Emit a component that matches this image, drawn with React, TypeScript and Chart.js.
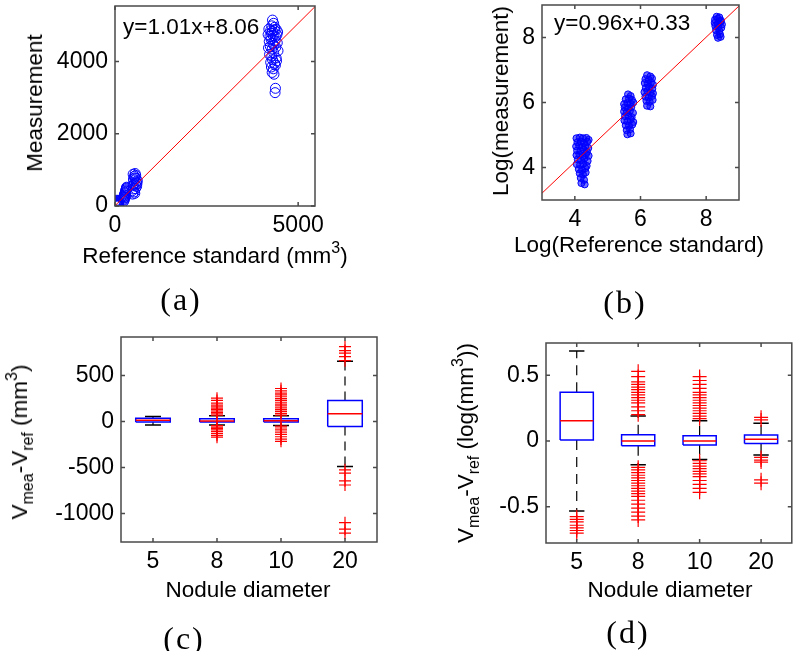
import React, { useEffect, useRef } from 'react';
import { Chart, registerables } from 'chart.js';

Chart.register(...registerables);

const SANS = "'Liberation Sans', Arial, Helvetica, sans-serif";
const SERIF = "'Liberation Serif', 'Times New Roman', Times, serif";

// ---------- Panel (a): measurement vs reference (mm^3) ----------
const aXTicks = [0, 5000];
const aYTicks = [0, 2000, 4000];
const aFit = { slope: 1.01, intercept: 8.06 };
const ax5 = [45, 60, 72, 85, 55, 95, 66, 80, 50, 70, 90, 62, 78, 58, 100];
const ay5 = [10, 40, 85, 120, 160, 60, 20, 150, 95, 0, 105, 130, 55, 70, 30];
const ax8 = [230, 250, 265, 280, 300, 320, 245, 270, 290, 310, 260, 285, 240, 305, 275, 255, 295, 315];
const ay8 = [160, 220, 300, 380, 450, 500, 260, 340, 420, 480, 190, 360, 130, 410, 240, 310, 280, 520];
const ax10 = [470, 490, 510, 530, 550, 575, 600, 480, 500, 520, 545, 565, 590, 610, 495, 525, 555, 585, 505, 540, 570];
const ay10 = [420, 560, 700, 820, 900, 760, 620, 330, 470, 610, 780, 850, 540, 700, 880, 390, 480, 660, 750, 350, 580];
const ax20 = [4300, 4330, 4280, 4360, 4200, 4250, 4300, 4350, 4400, 4440, 4180, 4230, 4270, 4320, 4380, 4420,
  4210, 4260, 4310, 4370, 4430, 4190, 4240, 4290, 4340, 4390, 4450, 4220, 4280, 4330, 4400, 4250, 4300, 4360, 4410,
  4270, 4320, 4380, 4290, 4340, 4380, 4370];
const ay20 = [5150, 5060, 4990, 4950, 4900, 4860, 4840, 4870, 4890, 4820, 4750, 4700, 4780, 4720, 4690, 4740,
  4560, 4620, 4500, 4580, 4520, 4380, 4420, 4350, 4450, 4400, 4300, 4200, 4150, 4250, 4100, 3980, 4050, 3950, 4020,
  3850, 3800, 3900, 3700, 3650, 3260, 3140];

// ---------- Panel (b): log measurement vs log reference ----------
const bTicks = [4, 6, 8];
const bFit = { slope: 0.96, intercept: 0.33 };
const bx5 = [4.05, 4.15, 4.25, 4.35, 4.42, 4.08, 4.18, 4.28, 4.38, 4.04, 4.13, 4.22, 4.32, 4.41, 4.07, 4.17, 4.27, 4.37,
  4.05, 4.14, 4.24, 4.34, 4.42, 4.09, 4.19, 4.29, 4.39, 4.06, 4.16, 4.26, 4.36, 4.12, 4.22, 4.32, 4.15, 4.25, 4.33,
  4.18, 4.28, 4.2, 4.3];
const by5 = [4.9, 4.92, 4.9, 4.91, 4.85, 4.78, 4.8, 4.76, 4.79, 4.65, 4.68, 4.62, 4.66, 4.6, 4.52, 4.5, 4.55, 4.48,
  4.38, 4.4, 4.35, 4.42, 4.36, 4.25, 4.22, 4.28, 4.2, 4.1, 4.08, 4.12, 4.05, 3.95, 3.92, 3.98, 3.82, 3.78, 3.85,
  3.68, 3.62, 3.52, 3.48];
const bx8 = [5.62, 5.7, 5.55, 5.65, 5.74, 5.5, 5.6, 5.7, 5.78, 5.52, 5.62, 5.72, 5.5, 5.58, 5.68, 5.77, 5.53, 5.63, 5.73,
  5.51, 5.6, 5.7, 5.78, 5.55, 5.65, 5.75, 5.58, 5.68, 5.6, 5.7];
const by8 = [6.25, 6.2, 6.1, 6.12, 6.08, 5.95, 5.98, 5.96, 6.0, 5.85, 5.82, 5.86, 5.72, 5.7, 5.75, 5.68, 5.58, 5.6, 5.55,
  5.45, 5.42, 5.48, 5.4, 5.3, 5.28, 5.32, 5.15, 5.18, 5.02, 5.05];
const bx10 = [6.2, 6.3, 6.15, 6.25, 6.35, 6.13, 6.22, 6.32, 6.38, 6.16, 6.26, 6.36, 6.12, 6.21, 6.3, 6.38, 6.15, 6.25, 6.35,
  6.18, 6.28, 6.37, 6.2, 6.3];
const by10 = [6.84, 6.8, 6.72, 6.7, 6.74, 6.6, 6.58, 6.62, 6.55, 6.45, 6.48, 6.42, 6.32, 6.35, 6.3, 6.28, 6.18, 6.15, 6.2,
  6.05, 6.02, 6.08, 5.9, 5.88];
const bx20 = [8.32, 8.4, 8.27, 8.36, 8.45, 8.26, 8.35, 8.44, 8.48, 8.28, 8.37, 8.46, 8.3, 8.4, 8.33, 8.42, 8.36, 8.44];
const by20 = [8.64, 8.62, 8.55, 8.58, 8.52, 8.45, 8.42, 8.48, 8.4, 8.35, 8.32, 8.3, 8.22, 8.2, 8.08, 8.1, 7.99, 8.02];

// ---------- Box plots ----------
const diameters = ['5', '8', '10', '20'];
const catTicks = [1, 2, 3, 4];

// (c) V_mea - V_ref (mm^3)
const cYTicks = [-1000, -500, 0, 500];
const cQ1 = [-5, -5, -5, -54];
const cMed = [15, 5, 10, 84];
const cQ3 = [37, 30, 32, 228];
const cLow = [-36, -38, -42, -490];
const cHigh = [54, 62, 62, 655];
const cOut5: number[] = [];
const cOut8 = [70, 85, 100, 115, 130, 145, 160, 180, 200, 230, 255, -45, -60, -75, -90, -110, -130, -150, -170];
const cOut10 = [70, 90, 110, 130, 150, 170, 190, 210, 230, 250, 270, 290, 310, 335, 360,
  -50, -70, -90, -115, -140, -165, -190, -215];
const cOut20 = [663, 707, 745, 772, 815, -525, -560, -645, -690, -1100, -1170, -1214];

// (d) V_mea - V_ref (log(mm^3))
const dYTicks = [-0.5, 0, 0.5];
const dQ1 = [0.008, -0.035, -0.03, -0.018];
const dMed = [0.154, 0.0, 0.0, 0.013];
const dQ3 = [0.37, 0.048, 0.04, 0.045];
const dLow = [-0.532, -0.18, -0.14, -0.106];
const dHigh = [0.684, 0.19, 0.155, 0.135];
const dOut5 = [-0.575, -0.595, -0.615, -0.64, -0.66, -0.68, -0.7];
const dOut8 = [0.2, 0.23, 0.26, 0.29, 0.31, 0.33, 0.35, 0.37, 0.39, 0.41, 0.43, 0.45, 0.49, 0.53,
  -0.2, -0.22, -0.24, -0.26, -0.28, -0.3, -0.32, -0.34, -0.36, -0.38, -0.4, -0.42, -0.45, -0.48, -0.51, -0.54, -0.57, -0.6];
const dOut10 = [0.17, 0.19, 0.21, 0.23, 0.25, 0.27, 0.29, 0.31, 0.33, 0.35, 0.37, 0.4, 0.43, 0.46, 0.49,
  -0.15, -0.17, -0.19, -0.21, -0.23, -0.25, -0.27, -0.3, -0.33, -0.36, -0.39];
const dOut20 = [0.16, 0.18, -0.125, -0.145, -0.16, -0.295, -0.32];

// ---------- helpers ----------
const zip = (xs: number[], ys: number[]) => xs.map((x, i) => ({ x, y: ys[i] }));

const frame = {
  id: 'matlabFrame',
  afterDatasetsDraw(chart: any) {
    const { ctx, chartArea: a, scales } = chart;
    ctx.save();
    ctx.strokeStyle = '#4a4a4a';
    ctx.lineWidth = 1.5;
    ctx.strokeRect(a.left, a.top, a.right - a.left, a.bottom - a.top);
    const tl = 4;
    ctx.beginPath();
    scales.x.ticks.forEach((t: any) => {
      const p = scales.x.getPixelForValue(t.value);
      ctx.moveTo(p, a.bottom); ctx.lineTo(p, a.bottom - tl);
      ctx.moveTo(p, a.top); ctx.lineTo(p, a.top + tl);
    });
    scales.y.ticks.forEach((t: any) => {
      const p = scales.y.getPixelForValue(t.value);
      ctx.moveTo(a.left, p); ctx.lineTo(a.left + tl, p);
      ctx.moveTo(a.right, p); ctx.lineTo(a.right - tl, p);
    });
    ctx.stroke();
    ctx.restore();
  },
};

function axis(min: number, max: number, ticks: number[], size: number, pad: number, labels?: string[]) {
  return {
    type: 'linear',
    min,
    max,
    grid: { display: false, drawTicks: false },
    border: { display: false },
    ticks: {
      font: { family: SANS, size: 23 },
      color: '#000',
      padding: pad,
      autoSkip: false,
      maxRotation: 0,
      minRotation: 0,
      callback: (v: number) => (labels ? labels[Math.round(v) - 1] : String(v)),
    },
    afterBuildTicks: (s: any) => { s.ticks = ticks.map((v) => ({ value: v })); },
    afterFit: (s: any) => {
      if (s.isHorizontal()) s.height = size; else s.width = size;
      s.paddingLeft = 0; s.paddingRight = 0; s.paddingTop = 0; s.paddingBottom = 0;
    },
  };
}

function baseOptions(padding: any, x: any, y: any) {
  return {
    animation: false,
    responsive: false,
    maintainAspectRatio: false,
    layout: { padding },
    plugins: { legend: { display: false }, tooltip: { enabled: false } },
    scales: { x, y },
  };
}

function fitLine(fit: { slope: number; intercept: number }, x0: number, x1: number) {
  return {
    data: [x0, x1].map((x) => ({ x, y: fit.slope * x + fit.intercept })),
    showLine: true,
    borderColor: '#ff0000',
    borderWidth: 1,
    pointRadius: 0,
  };
}

function circles(pts: { x: number; y: number }[], r: number, fill: string) {
  return {
    data: pts,
    showLine: false,
    pointStyle: 'circle',
    pointRadius: r,
    pointBorderWidth: 1,
    pointBorderColor: '#0000ff',
    pointBackgroundColor: fill,
  };
}

function boxDatasets(q1: number[], med: number[], q3: number[], lo: number[], hi: number[],
  outs: number[][], crossR: number, dash: number[]) {
  const H = 0.27, C = 0.125;
  const boxes: any[] = [], meds: any[] = [], whisk: any[] = [], caps: any[] = [], out: any[] = [];
  q1.forEach((_, i) => {
    const x = i + 1;
    boxes.push({ x: x - H, y: q1[i] }, { x: x + H, y: q1[i] }, { x: x + H, y: q3[i] }, { x: x - H, y: q3[i] },
      { x: x - H, y: q1[i] }, { x, y: null });
    meds.push({ x: x - H, y: med[i] }, { x: x + H, y: med[i] }, { x, y: null });
    whisk.push({ x, y: q3[i] }, { x, y: hi[i] }, { x, y: null }, { x, y: q1[i] }, { x, y: lo[i] }, { x, y: null });
    caps.push({ x: x - C, y: hi[i] }, { x: x + C, y: hi[i] }, { x, y: null },
      { x: x - C, y: lo[i] }, { x: x + C, y: lo[i] }, { x, y: null });
    outs[i].forEach((v) => out.push({ x, y: v }));
  });
  const line = (data: any[], color: string, w: number, d: number[] = []) => ({
    data, showLine: true, borderColor: color, borderWidth: w, borderDash: d, pointRadius: 0, spanGaps: false,
  });
  return [
    { data: out, showLine: false, pointStyle: 'cross', pointRadius: crossR, pointBorderColor: '#ff0000',
      pointBorderWidth: 1.2, pointBackgroundColor: '#ff0000' },
    line(meds, '#ff0000', 1.5),
    line(boxes, '#0000ff', 1.5),
    line(caps, '#000000', 1.5),
    line(whisk, '#000000', 1.2, dash),
  ];
}

// ---------- chart configs ----------
const configA = () => ({
  type: 'scatter',
  data: {
    datasets: [
      fitLine(aFit, 0, 5460),
      circles(zip(ax5, ay5), 5, 'rgba(0,0,0,0)'),
      circles(zip(ax8, ay8), 5, 'rgba(0,0,0,0)'),
      circles(zip(ax10, ay10), 5, 'rgba(0,0,0,0)'),
      circles(zip(ax20, ay20), 5, 'rgba(0,0,0,0)'),
    ],
  },
  options: baseOptions({ left: 55, right: 85, top: 5, bottom: 79 },
    axis(0, 5460, aXTicks, 40, 6), axis(0, 5540, aYTicks, 60, 7)),
  plugins: [frame],
});

const configB = () => ({
  type: 'scatter',
  data: {
    datasets: [
      fitLine(bFit, 3, 9),
      circles(zip(bx5, by5), 3.5, 'rgba(0,0,255,0.55)'),
      circles(zip(bx8, by8), 3.5, 'rgba(0,0,255,0.55)'),
      circles(zip(bx10, by10), 3.5, 'rgba(0,0,255,0.55)'),
      circles(zip(bx20, by20), 3.5, 'rgba(0,0,255,0.55)'),
    ],
  },
  options: baseOptions({ left: 82, right: 61, top: 3, bottom: 85 },
    axis(3, 9, bTicks, 40, 6), axis(3, 9, bTicks, 60, 7)),
  plugins: [frame],
});

const configC = () => ({
  type: 'scatter',
  data: {
    datasets: boxDatasets(cQ1, cMed, cQ3, cLow, cHigh, [cOut5, cOut8, cOut10, cOut20], 6, [9, 6]),
  },
  options: baseOptions({ left: 51, right: 23, top: 12, bottom: 69 },
    axis(0.5, 4.5, catTicks, 40, 6, diameters), axis(-1310, 920, cYTicks, 70, 7)),
  plugins: [frame],
});

const configD = () => ({
  type: 'scatter',
  data: {
    datasets: boxDatasets(dQ1, dMed, dQ3, dLow, dHigh, [dOut5, dOut8, dOut10, dOut20], 7, [10, 7]),
  },
  options: baseOptions({ left: 76, right: 2, top: 18, bottom: 68 },
    axis(0.5, 4.5, catTicks, 40, 6, diameters), axis(-0.775, 0.745, dYTicks, 70, 7)),
  plugins: [frame],
});

function ChartCanvas({ config, left, top, width, height }: any) {
  const ref = useRef<HTMLCanvasElement>(null);
  useEffect(() => {
    const chart = new Chart(ref.current as HTMLCanvasElement, config() as any);
    return () => chart.destroy();
  }, []);
  return (
    <canvas ref={ref} width={width} height={height}
      style={{ position: 'absolute', left, top, width, height, display: 'block' }} />
  );
}

const textBase: React.CSSProperties = {
  position: 'absolute',
  fontFamily: SANS,
  fontSize: 22.5,
  lineHeight: '22px',
  whiteSpace: 'nowrap',
  color: '#000',
};

function Label({ cx, cy, rotate, children, style }: any) {
  return (
    <div style={{
      ...textBase,
      left: cx,
      top: cy,
      transform: `translate(-50%,-50%)${rotate ? ' rotate(-90deg)' : ''}`,
      ...style,
    }}>{children}</div>
  );
}

const Sub = ({ children }: any) => (
  <span style={{ fontSize: 16, position: 'relative', top: 6, lineHeight: 0 }}>{children}</span>
);
const Sup = ({ children }: any) => (
  <span style={{ fontSize: 16, position: 'relative', top: -10, lineHeight: 0 }}>{children}</span>
);

const capStyle = { fontFamily: SERIF, fontSize: 32, lineHeight: '32px', letterSpacing: 2 };

export default function App() {
  return (
    <div style={{ position: 'absolute', left: 0, top: 0, width: 800, height: 651, background: '#fff', overflow: 'hidden' }}>
      <ChartCanvas config={configA} left={0} top={0} width={400} height={325} />
      <ChartCanvas config={configB} left={400} top={0} width={400} height={325} />
      <ChartCanvas config={configC} left={0} top={325} width={400} height={326} />
      <ChartCanvas config={configD} left={400} top={325} width={400} height={326} />

      {/* equations */}
      <div style={{ ...textBase, left: 123, top: 27, transform: 'translateY(-50%)' }}>y=1.01x+8.06</div>
      <div style={{ ...textBase, left: 554, top: 23, transform: 'translateY(-50%)' }}>y=0.96x+0.33</div>

      {/* axis titles */}
      <Label cx={35} cy={103} rotate>Measurement</Label>
      <Label cx={215} cy={256}>Reference standard (mm<Sup>3</Sup>)</Label>
      <Label cx={501} cy={101} rotate>Log(measurement)</Label>
      <Label cx={639} cy={245}>Log(Reference standard)</Label>
      <Label cx={20} cy={442} rotate>V<Sub>mea</Sub>-V<Sub>ref</Sub> (mm<Sup>3</Sup>)</Label>
      <Label cx={248} cy={590}>Nodule diameter</Label>
      <Label cx={466} cy={443} rotate>V<Sub>mea</Sub>-V<Sub>ref</Sub> (log(mm<Sup>3</Sup>))</Label>
      <Label cx={670} cy={590}>Nodule diameter</Label>

      {/* captions */}
      <Label cx={181} cy={299} style={capStyle}>(a)</Label>
      <Label cx={625} cy={302} style={capStyle}>(b)</Label>
      <Label cx={184} cy={638} style={capStyle}>(c)</Label>
      <Label cx={628} cy={632} style={capStyle}>(d)</Label>
    </div>
  );
}
